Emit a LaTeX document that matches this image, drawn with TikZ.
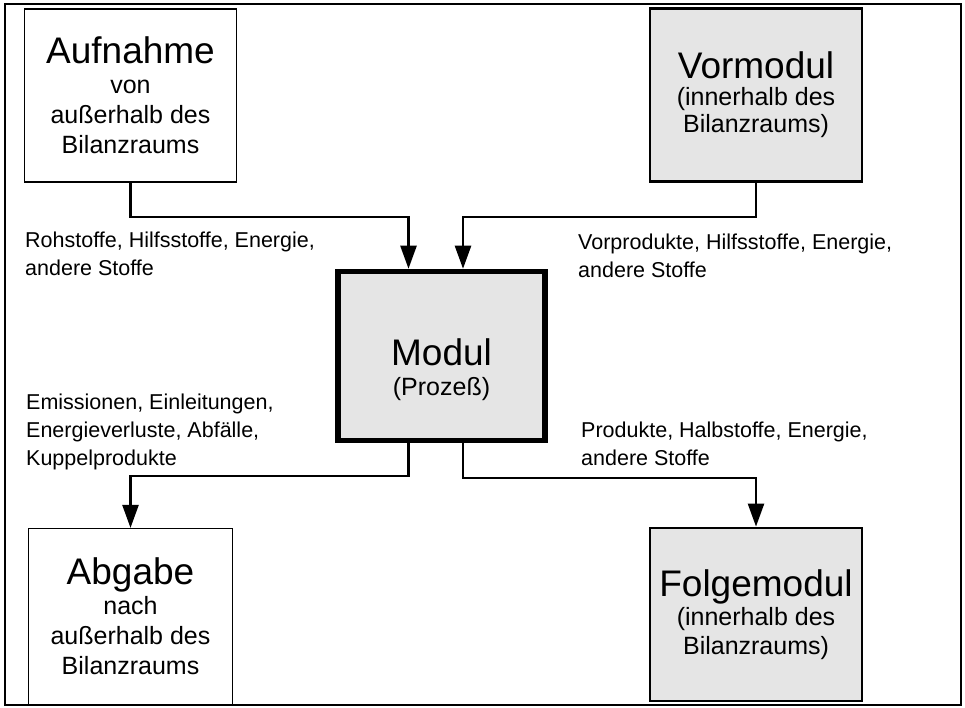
\documentclass[tikz,border=0pt]{standalone}
\usepackage{fontspec}
\setmainfont{Liberation Sans}
\usetikzlibrary{positioning, arrows.meta}
\definecolor{stipple}{gray}{0.9}

\begin{document}
\begin{tikzpicture}[x=1pt,y=-1pt,>={Triangle[length=23pt,width=16pt]}]
\tikzstyle{box}=[rectangle,draw,inner sep=0pt,align=center,minimum width=212pt,minimum height=173pt,font=\fontsize{25}{30}\selectfont]
\tikzstyle{outside}=[box,line width=1.2pt]
\tikzstyle{inside}=[box,line width=2.8pt,fill=stipple]
\tikzstyle{flow}=[draw,line width=2.4pt]
\tikzstyle{lab}=[anchor=base west,inner sep=0pt,align=left,font=\fontsize{21.5}{28}\selectfont]
\newcommand{\headline}[1]{{\fontsize{37}{40}\selectfont #1}}

  \useasboundingbox (0,0) rectangle (965,708);
  \draw[line width=1.3pt] (5,4) rectangle (961,705);

  %--- nodes ---
  \node[outside] (aufnahme) at (130.5,95.5) {\headline{Aufnahme}\\von\\außerhalb des\\Bilanzraums};
  \node[inside] (vormodul) at (756,95) {\headline{Vormodul}\\[-3pt](innerhalb des\\[-3pt]Bilanzraums)};
  \node[box,line width=5.5pt,fill=stipple,minimum width=207pt,minimum height=169pt] (modul) at (441.5,356)
    {\rule{0pt}{55pt}\headline{Modul}\\(Prozeß)};
  \node[outside,minimum width=204pt,minimum height=176pt] (abgabe) at (130.5,616.5) {\headline{Abgabe}\\nach\\außerhalb des\\Bilanzraums};
  \node[inside] (folgemodul) at (756,614.5) {\headline{Folgemodul}\\[-1pt](innerhalb des\\[-1pt]Bilanzraums)};

  %--- labels (placed at the baseline of their last line) ---
  \node[lab] (rein) at (25,276) {Rohstoffe, Hilfsstoffe, Energie,\\andere Stoffe};
  \node[lab] (vor) at (578,277) {Vorprodukte, Hilfsstoffe, Energie,\\andere Stoffe};
  \node[lab] (raus) at (26,465) {Emissionen, Einleitungen,\\Energieverluste, Abfälle,\\Kuppelprodukte};
  \node[lab] (folge) at (581,465) {Produkte, Halbstoffe, Energie,\\andere Stoffe};

  %--- flows ---
  \coordinate (inL) at (408.5,217);
  \coordinate (inR) at (463,217);
  \coordinate (outL) at (408.5,476);
  \coordinate (outR) at (463,478);

  \draw[flow,->] (aufnahme.south) |- (inL) -- (inL |- modul.north);
  \draw[flow,->] (vormodul.south) |- (inR) -- (inR |- modul.north);
  \draw[flow,->] (outL |- modul.south) -- (outL) -| (abgabe.north);
  \draw[flow,->] (outR |- modul.south) -- (outR) -| (folgemodul.north);
\end{tikzpicture}
\end{document}
